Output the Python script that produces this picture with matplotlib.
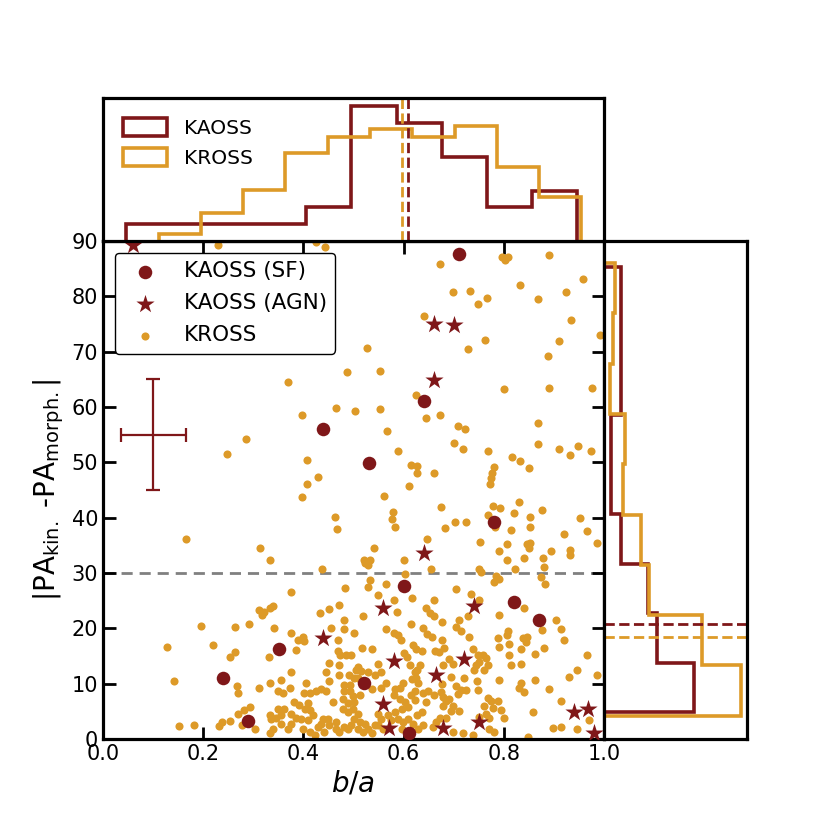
"""
KAOSS vs KROSS: kinematic misalignment against axis ratio, with marginal histograms
"""
import matplotlib
matplotlib.use("Agg")
import matplotlib.pyplot as plt
from matplotlib.patches import Patch

RED = '#7f1719'
ORANGE = '#dd9a28'

# KAOSS star-forming galaxies (b/a, |PA_kin - PA_morph|)
sf_ba = [0.710, 0.640, 0.440, 0.530, 0.780, 0.600, 0.820, 0.871, 0.351, 0.240, 0.521, 0.290, 0.610]
sf_pa = [87.7, 61.0, 56.0, 49.9, 39.2, 27.7, 24.8, 21.6, 16.3, 11.0, 10.2, 3.3, 1.1]

# KAOSS AGN
agn_ba = [0.060, 0.660, 0.700, 0.660, 0.640, 0.559, 0.740, 0.439, 0.581, 0.720,
          0.665, 0.559, 0.570, 0.679, 0.750, 0.940, 0.969, 0.981]
agn_pa = [89.2, 75.0, 74.8, 64.9, 33.6, 23.7, 24.1, 18.2, 14.1, 14.5,
          11.6, 6.3, 2.0, 2.0, 3.1, 4.9, 5.5, 1.0]

# KROSS sample
kross_ba = [
    0.230, 0.425, 0.443, 0.370, 0.488, 0.397, 0.466, 0.503, 0.285, 0.247, 0.407, 0.430, 0.407, 0.397, 0.463,
    0.468, 0.165, 0.313, 0.333,
    0.673, 0.796, 0.808, 0.802, 0.891, 0.959, 0.832, 0.699, 0.732, 0.766, 0.748, 0.868, 0.925, 0.640, 0.935,
    0.993, 0.910, 0.762, 0.728, 0.527, 0.888, 0.552, 0.801, 0.890, 0.977, 0.625, 0.552, 0.645, 0.672, 0.868,
    0.709, 0.722, 0.566, 0.700, 0.719, 0.868, 0.589, 0.768, 0.910, 0.932, 0.948, 0.975, 0.615, 0.627, 0.626,
    0.661, 0.816, 0.833, 0.850, 0.780, 0.777, 0.775, 0.772, 0.610, 0.560, 0.675, 0.578, 0.577, 0.583, 0.778,
    0.793, 0.768, 0.820, 0.831, 0.876, 0.852, 0.782, 0.703, 0.725, 0.682, 0.814, 0.853, 0.953, 0.967, 0.920,
    0.987, 0.647, 0.753, 0.806, 0.846, 0.852, 0.850, 0.790, 0.895, 0.933, 0.933, 0.840, 0.878, 0.806, 0.540,
    0.600, 0.521, 0.533,
    0.312, 0.321, 0.317, 0.333, 0.196, 0.264, 0.291, 0.127, 0.219, 0.264, 0.253, 0.332, 0.142, 0.267, 0.269,
    0.311, 0.333, 0.269, 0.281, 0.294, 0.333, 0.152, 0.182, 0.232, 0.237, 0.254, 0.277, 0.303, 0.333,
    0.522, 0.528, 0.438, 0.603, 0.655, 0.532, 0.529, 0.565, 0.484, 0.375, 0.548, 0.617, 0.581, 0.660, 0.339,
    0.472, 0.452, 0.434, 0.587, 0.519, 0.645, 0.652, 0.661, 0.482, 0.341, 0.456, 0.482, 0.614, 0.565, 0.581,
    0.589, 0.594, 0.639, 0.647, 0.656, 0.375, 0.389, 0.400, 0.402, 0.501, 0.469, 0.386, 0.516, 0.537, 0.469,
    0.474, 0.486, 0.496, 0.619, 0.625, 0.636, 0.601, 0.607, 0.662, 0.452, 0.548, 0.472, 0.509, 0.504, 0.515,
    0.612, 0.632, 0.627, 0.375, 0.446, 0.472, 0.492, 0.501, 0.509, 0.529, 0.542, 0.555, 0.622, 0.625, 0.617,
    0.629, 0.356, 0.406, 0.452, 0.482, 0.494, 0.565, 0.555, 0.536, 0.599, 0.592, 0.582, 0.373, 0.622, 0.639,
    0.349, 0.359, 0.402, 0.413, 0.426, 0.436, 0.446, 0.482, 0.494, 0.499, 0.512, 0.459, 0.479, 0.489, 0.502,
    0.581, 0.592, 0.602, 0.622, 0.645, 0.381, 0.392, 0.409, 0.403, 0.413, 0.349, 0.362, 0.356, 0.346, 0.376,
    0.386, 0.376, 0.369, 0.396, 0.409, 0.419, 0.439, 0.436, 0.449, 0.452, 0.466, 0.466, 0.472, 0.482, 0.479,
    0.489, 0.499, 0.509, 0.502, 0.512, 0.522, 0.496, 0.489, 0.509, 0.529, 0.519, 0.536, 0.542, 0.429, 0.442,
    0.413, 0.399, 0.423, 0.356, 0.339, 0.336, 0.549, 0.555, 0.569, 0.549, 0.559, 0.575, 0.589, 0.599, 0.609,
    0.619, 0.596, 0.629, 0.639, 0.626, 0.636, 0.659, 0.665, 0.596, 0.582, 0.609, 0.615, 0.648, 0.661,
    0.751, 0.755, 0.823, 0.881, 0.784, 0.781, 0.791, 0.874, 0.883, 0.705, 0.735, 0.751, 0.841, 0.790, 0.904,
    0.914, 0.921, 0.677, 0.711, 0.705, 0.715, 0.728, 0.876, 0.808, 0.806, 0.788, 0.791, 0.731, 0.677, 0.681,
    0.670, 0.811, 0.838, 0.847, 0.844, 0.834, 0.881, 0.863, 0.810, 0.967, 0.738, 0.748, 0.758, 0.764, 0.751,
    0.744, 0.768, 0.761, 0.690, 0.814, 0.834, 0.741, 0.678, 0.698, 0.695, 0.721, 0.746, 0.790, 0.947, 0.931,
    0.986, 0.863, 0.834, 0.830, 0.841, 0.891, 0.677, 0.675, 0.678, 0.705, 0.715, 0.725, 0.708, 0.748, 0.691,
    0.685, 0.678, 0.698, 0.711, 0.694, 0.685, 0.672, 0.768, 0.774, 0.788, 0.761, 0.778, 0.794, 0.801, 0.751,
    0.764, 0.771, 0.914, 0.859, 0.970, 0.947, 0.914, 0.898, 0.698, 0.718, 0.738, 0.771, 0.781, 0.848,
]
kross_pa = [
    89.2, 89.8, 89.0, 64.5, 66.3, 58.5, 59.8, 59.2, 54.3, 51.6, 50.4, 47.3, 46.1, 43.7, 40.1,
    38.0, 36.1, 34.6, 32.4,
    85.8, 87.1, 87.1, 86.6, 87.4, 83.1, 82.1, 80.8, 81.0, 79.7, 78.6, 79.5, 80.7, 76.4, 75.7,
    73.1, 72.0, 72.1, 70.5, 70.7, 69.3, 66.5, 63.3, 63.4, 63.4, 62.1, 59.6, 58.1, 58.6, 57.1,
    56.5, 56.1, 55.6, 53.5, 52.5, 53.4, 52.0, 52.0, 52.5, 51.4, 52.9, 52.1, 49.6, 49.3, 48.1,
    48.0, 50.9, 50.3, 49.0, 49.1, 48.1, 47.2, 46.0, 45.7, 44.0, 41.9, 41.0, 39.8, 38.3, 42.2,
    41.7, 40.5, 40.8, 42.8, 41.4, 40.1, 38.3, 39.2, 39.2, 38.1, 37.8, 38.3, 39.9, 37.6, 37.0,
    35.5, 36.1, 35.6, 35.2, 35.3, 35.5, 34.6, 33.9, 34.0, 34.2, 33.3, 32.8, 32.7, 32.4, 34.6,
    32.4, 32.3, 32.3,
    23.3, 23.0, 22.4, 23.6, 20.4, 20.3, 20.7, 16.6, 17.0, 15.7, 14.8, 14.9, 10.4, 9.6, 8.4,
    9.2, 10.1, 4.6, 5.2, 5.7, 4.4, 2.3, 2.5, 2.4, 3.0, 3.3, 2.5, 1.8, 1.0,
    31.9, 31.5, 30.7, 29.9, 30.7, 28.7, 27.5, 28.1, 27.3, 26.6, 26.0, 25.5, 25.1, 25.1, 24.1,
    24.2, 23.5, 22.7, 22.9, 22.3, 23.7, 22.7, 22.3, 21.5, 20.1, 20.0, 19.9, 20.7, 19.9, 19.1,
    18.8, 17.9, 20.0, 18.9, 18.4, 19.1, 17.9, 18.5, 17.7, 19.1, 17.9, 16.0, 16.5, 16.3, 15.9,
    15.2, 15.1, 15.2, 17.0, 16.3, 15.9, 15.5, 14.9, 15.9, 13.7, 13.5, 13.3, 13.1, 12.5, 12.3,
    13.3, 13.3, 12.5, 12.1, 12.1, 11.6, 11.6, 11.1, 11.0, 12.1, 11.5, 12.1, 12.1, 11.0, 10.9,
    10.1, 10.7, 10.2, 10.5, 9.8, 9.8, 10.1, 9.3, 9.1, 10.1, 9.3, 9.1, 9.2, 8.7, 8.4,
    8.6, 8.3, 8.4, 8.3, 8.6, 9.1, 8.7, 8.7, 8.6, 7.7, 8.0, 6.7, 7.2, 6.5, 6.7,
    8.0, 7.3, 6.7, 7.0, 6.7, 6.7, 6.2, 6.5, 5.4, 5.2, 5.5, 5.4, 4.3, 3.8, 4.6,
    3.8, 2.8, 1.9, 3.7, 3.4, 4.4, 3.7, 2.8, 3.7, 2.5, 3.1, 1.9, 1.3, 2.2, 5.5,
    4.9, 5.5, 4.6, 3.7, 3.1, 2.8, 2.5, 1.9, 1.9, 1.9, 1.3, 1.0, 2.5, 2.2, 1.3,
    1.3, 1.9, 0.7, 2.8, 1.9, 3.7, 4.6, 3.7, 4.3, 2.5, 1.9, 3.4, 3.7, 3.1, 3.7,
    2.8, 1.9, 1.9, 2.5, 4.3, 4.9, 2.2, 3.1, 5.5, 4.9, 5.8, 8.0, 8.6, 8.0,
    30.7, 30.2, 30.7, 31.0, 29.5, 28.4, 29.0, 29.2, 28.1, 27.2, 26.2, 25.1, 23.6, 22.4, 21.5,
    19.9, 17.9, 21.2, 21.5, 20.3, 19.5, 22.3, 19.7, 19.5, 18.8, 18.2, 16.7, 18.5, 17.9, 16.5,
    15.8, 17.1, 18.3, 18.5, 17.5, 16.3, 16.4, 15.3, 15.2, 15.1, 16.3, 15.2, 15.2, 14.6, 14.0,
    13.4, 13.3, 12.5, 14.5, 13.3, 13.5, 12.5, 13.3, 13.6, 11.3, 11.0, 10.5, 10.7, 12.5, 11.3,
    11.5, 10.7, 10.1, 9.2, 8.5, 9.0, 10.0, 8.5, 7.6, 9.6, 8.8, 8.8, 8.2, 8.8, 7.3,
    6.8, 6.0, 6.0, 5.1, 5.1, 3.8, 3.8, 7.5, 6.8, 6.8, 6.0, 5.6, 5.2, 3.8, 4.0,
    4.6, 3.8, 6.9, 4.9, 3.4, 1.9, 2.2, 2.0, 1.3, 1.1, 0.7, 1.9, 1.3, 0.4,
]

# marginal histograms (bin edges and heights as drawn)
kaoss_ba_edges = [0.046, 0.136, 0.226, 0.316, 0.406, 0.496, 0.586, 0.676, 0.766, 0.856, 0.946]
kaoss_ba_hist = [1, 1, 1, 1, 2, 8, 7, 5, 2, 3]
kross_ba_edges = [0.111, 0.195, 0.280, 0.364, 0.449, 0.533, 0.617, 0.702, 0.786, 0.871, 0.955]
kross_ba_hist = [0.40, 1.64, 3.06, 5.26, 6.20, 6.64, 6.16, 6.84, 4.40, 2.60]

kaoss_pa_edges = [4.8, 13.75, 22.7, 31.65, 40.6, 49.55, 58.5, 67.45, 76.4, 85.35]
kaoss_pa_hist = [10.68, 6.28, 5.2, 2.0, 0.88, 0.88, 2.0, 2.0, 2.0]
kross_pa_edges = [4.2, 13.29, 22.38, 31.47, 40.56, 49.65, 58.74, 67.83, 76.92, 86.01]
kross_pa_hist = [16.28, 11.68, 5.32, 4.4, 2.28, 2.48, 0.68, 1.12, 1.32]

# medians
kaoss_ba_med, kross_ba_med = 0.609, 0.597
kaoss_pa_med, kross_pa_med = 20.7, 18.5

plt.rcParams['font.family'] = 'DejaVu Sans'
plt.rcParams['mathtext.fontset'] = 'dejavusans'

fig = plt.figure(figsize=(8.3, 8.3), dpi=100)
ax = fig.add_axes([0.1241, 0.1096, 0.6036, 0.6])
ax_top = fig.add_axes([0.1241, 0.7096, 0.6036, 0.1723])
ax_right = fig.add_axes([0.7277, 0.1096, 0.1723, 0.6])

for a in (ax, ax_top, ax_right):
    for s in a.spines.values():
        s.set_linewidth(2.3)

# main scatter
ax.scatter(kross_ba, kross_pa, s=34, color=ORANGE, lw=0, label='KROSS', zorder=2)
ax.scatter(sf_ba, sf_pa, s=95, color=RED, lw=0, label='KAOSS (SF)', zorder=3)
ax.scatter(agn_ba, agn_pa, s=190, marker='*', color=RED, lw=0, label='KAOSS (AGN)', zorder=3)
ax.axhline(30, color='gray', ls='--', lw=2, dashes=(4, 2.5), zorder=1)
ax.errorbar(0.1, 55, xerr=0.065, yerr=10, color=RED, capsize=5, lw=1.6, capthick=1.6)

ax.set_xlim(0, 1)
ax.set_ylim(0, 90)
ax.set_xticks([0.0, 0.2, 0.4, 0.6, 0.8, 1.0])
ax.set_yticks(range(0, 91, 10))
ax.tick_params(direction='in', length=9, width=2, labelsize=15, top=True, right=True)
ax.set_xlabel('$b/a$', fontsize=20)
ax.set_ylabel(r'|PA$_{\rm kin.}$ -PA$_{\rm morph.}$|', fontsize=20, labelpad=4)

h, l = ax.get_legend_handles_labels()
order = [1, 2, 0]
leg = ax.legend([h[i] for i in order], [l[i] for i in order], loc='upper left',
                fontsize=15.5, framealpha=1, edgecolor='black', fancybox=True,
                borderaxespad=0.55, handletextpad=0.8, borderpad=0.4, labelspacing=0.55)
leg.get_frame().set_linewidth(1.0)

# top histogram
ax_top.hist(kaoss_ba_edges[:-1], bins=kaoss_ba_edges, weights=kaoss_ba_hist,
            histtype='step', color=RED, lw=2.6)
ax_top.hist(kross_ba_edges[:-1], bins=kross_ba_edges, weights=kross_ba_hist,
            histtype='step', color=ORANGE, lw=2.6)
ax_top.axvline(kaoss_ba_med, color=RED, ls='--', lw=2)
ax_top.axvline(kross_ba_med, color=ORANGE, ls='--', lw=2)
ax_top.set_xlim(0, 1)
ax_top.set_ylim(0, 8.5)
ax_top.set_xticks([])
ax_top.set_yticks([])
ax_top.legend(handles=[Patch(facecolor='none', edgecolor=RED, lw=2.6, label='KAOSS'),
                       Patch(facecolor='none', edgecolor=ORANGE, lw=2.6, label='KROSS')],
              loc='upper left', frameon=False, fontsize=14.5, handlelength=2.2,
              handleheight=1.0, borderaxespad=0.6)

# right histogram
ax_right.hist(kaoss_pa_edges[:-1], bins=kaoss_pa_edges, weights=kaoss_pa_hist,
              histtype='step', color=RED, lw=2.6, orientation='horizontal')
ax_right.hist(kross_pa_edges[:-1], bins=kross_pa_edges, weights=kross_pa_hist,
              histtype='step', color=ORANGE, lw=2.6, orientation='horizontal')
ax_right.axhline(kaoss_pa_med, color=RED, ls='--', lw=2)
ax_right.axhline(kross_pa_med, color=ORANGE, ls='--', lw=2)
ax_right.set_ylim(0, 90)
ax_right.set_xlim(0, 17)
ax_right.set_xticks([])
ax_right.set_yticks([])

fig.savefig('out.png', dpi=100)
